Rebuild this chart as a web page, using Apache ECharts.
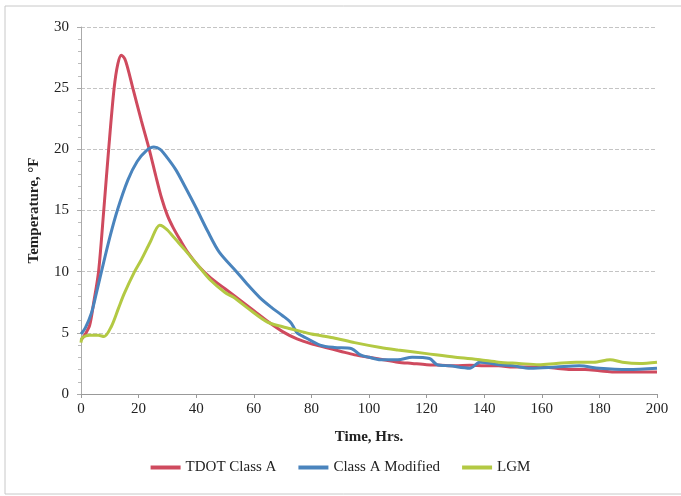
<!DOCTYPE html>
<html>
<head>
<meta charset="utf-8">
<script src="https://cdn.jsdelivr.net/npm/echarts@6/dist/echarts.min.js"></script>
<style>
  html, body { margin: 0; padding: 0; background: #fff; }
  #chart { width: 681px; height: 496px; }
</style>
</head>
<body>
<div id="chart"></div>
<script>
  // TDOT Class A
  const tdotTime = [0, 1.5, 3, 4.5, 6.1, 7.9, 9.6, 11.5, 12.8, 14, 15.2, 16.5, 18, 21, 23.8, 26, 28, 30, 32, 34.4, 37, 41, 45, 50, 55, 60, 65, 70, 75, 80, 85, 90, 95, 100, 105, 110, 115, 120, 125, 130, 135, 140, 145, 150, 155, 160, 165, 170, 175, 180, 185, 190, 195, 200]
  const tdotTemp = [4.4, 4.9, 5.6, 7.6, 10, 15, 20, 25, 27, 27.7, 27.4, 26.4, 25, 22.3, 19.9, 17.8, 16, 14.6, 13.6, 12.6, 11.6, 10.4, 9.5, 8.6, 7.7, 6.8, 5.9, 5.1, 4.5, 4.1, 3.8, 3.5, 3.2, 3.0, 2.8, 2.6, 2.5, 2.4, 2.35, 2.3, 2.35, 2.3, 2.3, 2.2, 2.2, 2.2, 2.1, 2.0, 2.0, 1.9, 1.8, 1.8, 1.8, 1.8]

  // Class A Modified
  const modTime = [0, 1.5, 3.6, 5.3, 7.1, 10, 12.6, 16.3, 19.5, 22.7, 25.3, 27.5, 30, 33, 36, 40, 44, 48, 54, 58, 62, 66, 70, 72.6, 74, 75, 78, 83, 88, 94, 97, 100, 104, 110, 115, 121, 123.6, 128, 135, 138.5, 145, 150, 156, 165, 173, 180, 190, 200]
  const modTemp = [4.9, 5.4, 6.6, 8.2, 10, 12.8, 15, 17.5, 19, 19.9, 20.2, 20, 19.3, 18.3, 17, 15.2, 13.3, 11.6, 10, 8.9, 7.9, 7.1, 6.4, 5.9, 5.4, 5.0, 4.6, 4.0, 3.8, 3.7, 3.2, 3.0, 2.8, 2.8, 3.0, 2.9, 2.4, 2.3, 2.1, 2.6, 2.4, 2.3, 2.1, 2.2, 2.3, 2.1, 2.0, 2.1]

  // LGM
  const lgmTime = [0, 0.5, 3, 6, 8, 10.5, 13, 15, 18.6, 21, 24, 27.3, 28.5, 30, 33, 36, 41, 45, 50, 53, 58, 64.6, 70, 75, 80, 87.5, 95, 104, 110, 120, 130, 138.5, 145, 152, 159, 165, 172, 178, 183.7, 188, 194, 200]
  const lgmTemp = [4.2, 4.6, 4.8, 4.8, 4.7, 5.5, 7, 8.2, 10, 11, 12.4, 13.8, 13.7, 13.4, 12.6, 11.8, 10.4, 9.3, 8.3, 7.9, 7.0, 5.9, 5.5, 5.2, 4.9, 4.6, 4.2, 3.8, 3.6, 3.3, 3.0, 2.8, 2.6, 2.5, 2.4, 2.5, 2.6, 2.6, 2.8, 2.6, 2.5, 2.6]

  const seriesNames = ['TDOT Class A', 'Class A Modified', 'LGM']
  const seriesColors = ['#cf4a5e', '#4a84bd', '#b3c943']

  function pairs(xs, ys) {
    return xs.map((x, i) => [x, ys[i]])
  }

  const font = 'Liberation Serif, Times New Roman, serif'

  let chart = echarts.init(document.getElementById('chart'))
  chart.setOption({
    backgroundColor: '#fff',
    animation: false,
    textStyle: { fontFamily: font },
    graphic: [
      {
        type: 'rect',
        shape: { x: 5, y: 6, width: 700, height: 488 },
        style: { fill: 'none', stroke: '#c8c8c8', lineWidth: 1 },
        silent: true,
      },
    ],
    grid: { left: 81, right: 24, top: 27, bottom: 102 },
    legend: {
      bottom: 16,
      left: 'center',
      itemWidth: 30,
      itemHeight: 4,
      itemGap: 22,
      icon: 'rect',
      textStyle: { fontFamily: font, fontSize: 15, color: '#222' },
      data: seriesNames,
    },
    xAxis: {
      type: 'value',
      min: 0,
      max: 200,
      interval: 20,
      name: 'Time, Hrs.',
      nameLocation: 'middle',
      nameGap: 36,
      nameTextStyle: { fontFamily: font, fontSize: 15, fontWeight: 'bold', color: '#222' },
      axisLine: { show: true, lineStyle: { color: '#999' } },
      axisTick: { show: true, inside: false, length: 4, lineStyle: { color: '#999' } },
      axisLabel: { fontFamily: font, fontSize: 15, color: '#222', margin: 8 },
      splitLine: { show: false },
    },
    yAxis: {
      type: 'value',
      min: 0,
      max: 30,
      interval: 5,
      name: 'Temperature, °F',
      nameLocation: 'middle',
      nameGap: 39,
      nameTextStyle: { fontFamily: font, fontSize: 15, fontWeight: 'bold', color: '#222' },
      axisLine: { show: true, lineStyle: { color: '#aaa' } },
      axisTick: { show: true, length: 4, lineStyle: { color: '#aaa' } },
      minorTick: { show: true, splitNumber: 5, length: 3, lineStyle: { color: '#bbb' } },
      axisLabel: { fontFamily: font, fontSize: 15, color: '#222', margin: 12 },
      splitLine: { show: true, lineStyle: { color: '#c4c4c4', type: 'dashed', width: 1 } },
    },
    series: [
      {
        name: seriesNames[0],
        type: 'line',
        data: pairs(tdotTime, tdotTemp),
        smooth: 0.3,
        showSymbol: false,
        color: seriesColors[0],
        lineStyle: { width: 3, color: seriesColors[0] },
      },
      {
        name: seriesNames[1],
        type: 'line',
        data: pairs(modTime, modTemp),
        smooth: 0.3,
        showSymbol: false,
        color: seriesColors[1],
        lineStyle: { width: 3, color: seriesColors[1] },
      },
      {
        name: seriesNames[2],
        type: 'line',
        data: pairs(lgmTime, lgmTemp),
        smooth: 0.3,
        showSymbol: false,
        color: seriesColors[2],
        lineStyle: { width: 3, color: seriesColors[2] },
      },
    ],
  })
</script>
</body>
</html>
